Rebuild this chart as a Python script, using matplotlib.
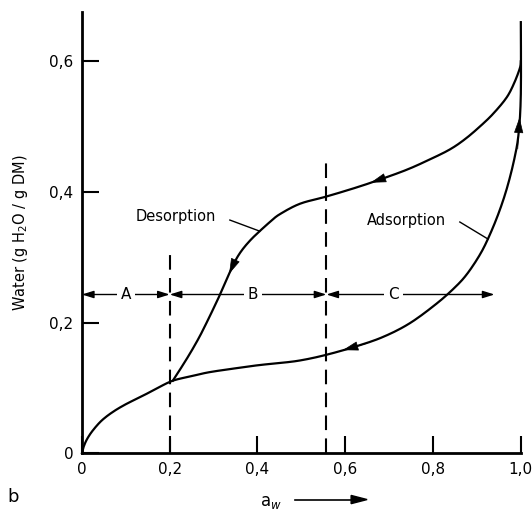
import numpy as np
import matplotlib.pyplot as plt

# isotherm readings (a_w, water content)
ads_x = [0, 0.004, 0.012, 0.025, 0.045, 0.07, 0.10, 0.139, 0.17, 0.207, 0.25, 0.29,
         0.35, 0.405, 0.45, 0.497, 0.553, 0.622, 0.686, 0.747, 0.808, 0.85,
         0.877, 0.905, 0.925, 0.948, 0.968, 0.985, 0.995, 1.0, 1.0]
ads_y = [0, 0.010, 0.022, 0.035, 0.050, 0.063, 0.075, 0.088, 0.099, 0.111, 0.118, 0.124,
         0.130, 0.135, 0.138, 0.142, 0.150, 0.163, 0.178, 0.199, 0.229, 0.254,
         0.274, 0.302, 0.328, 0.365, 0.405, 0.450, 0.490, 0.55, 0.66]

des_x = [1.0, 0.998, 0.985, 0.968, 0.94, 0.913, 0.875, 0.838, 0.79, 0.74, 0.679, 0.626,
         0.557, 0.497, 0.451, 0.43, 0.405, 0.385, 0.367, 0.353, 0.341, 0.327, 0.314,
         0.30, 0.29, 0.27, 0.25, 0.23, 0.207]
des_y = [0.60, 0.59, 0.567, 0.545, 0.522, 0.504, 0.482, 0.465, 0.449, 0.434, 0.419, 0.407,
         0.393, 0.382, 0.366, 0.355, 0.340, 0.327, 0.313, 0.299, 0.283, 0.262, 0.242,
         0.222, 0.208, 0.181, 0.157, 0.135, 0.111]

zone_bounds = [0, 0.2, 0.557, 0.94]
zone_names = ['A', 'B', 'C']
zone_level = 0.243
zone_label_x = [0.10, 0.39, 0.71]
split_tops = [0.305, 0.455]

xticks = [0, 0.2, 0.4, 0.6, 0.8, 1.0]
xticklabels = ['0', '0,2', '0,4', '0,6', '0,8', '1,0']
yticks = [0, 0.2, 0.4, 0.6]
yticklabels = ['0', '0,2', '0,4', '0,6']


def smooth(xs, ys, n=12):
    # catmull-rom through the read points, just so the pen line has no corners
    p = np.column_stack([xs, ys]).astype(float)
    p = np.vstack([p[0], p, p[-1]])
    t = np.linspace(0, 1, n, endpoint=False)[:, None]
    out = []
    for k in range(1, len(p) - 2):
        p0, p1, p2, p3 = p[k - 1], p[k], p[k + 1], p[k + 2]
        out.append(0.5 * (2 * p1 + (-p0 + p2) * t + (2 * p0 - 5 * p1 + 4 * p2 - p3) * t ** 2
                          + (-p0 + 3 * p1 - 3 * p2 + p3) * t ** 3))
    out.append(p[-2][None, :])
    out = np.vstack(out)
    return out[:, 0], out[:, 1]


def arrow_at(ax, xs, ys, i, back=False):
    # small filled arrow head sitting on the curve at point i
    j = i - 1 if back else i + 1
    x0, y0 = xs[i], ys[i]
    dx, dy = xs[j] - x0, ys[j] - y0
    ax.annotate('', xy=(x0 + 0.4 * dx, y0 + 0.4 * dy), xytext=(x0 - 0.4 * dx, y0 - 0.4 * dy),
                arrowprops=dict(arrowstyle='-|>,head_length=1.0,head_width=0.3',
                                color='black', lw=0.5, shrinkA=0, shrinkB=0))


fig = plt.figure(figsize=(5.32, 5.15), dpi=100)
ax = fig.add_axes([0.154, 0.120, 0.825, 0.856])

ax.plot(*smooth(ads_x, ads_y), color='black', lw=1.6, clip_on=False)
ax.plot(*smooth(des_x, des_y), color='black', lw=1.6, clip_on=False)

# arrows along the curves
arrow_at(ax, des_x, des_y, 10)
arrow_at(ax, des_x, des_y, 20)
arrow_at(ax, ads_x, ads_y, 17, back=True)
arrow_at(ax, ads_x, ads_y, 28)

# dashed zone limits
for xb, top in zip(zone_bounds[1:3], split_tops):
    ax.plot([xb, xb], [0, top], color='black', lw=1.5, ls=(0, (7, 4)))

# zone arrows A / B / C
for k, name in enumerate(zone_names):
    a, b = zone_bounds[k], zone_bounds[k + 1]
    ax.annotate('', xy=(a, zone_level), xytext=(b, zone_level),
                arrowprops=dict(arrowstyle='<|-|>,head_length=0.7,head_width=0.22',
                                color='black', lw=1.0, shrinkA=0, shrinkB=0))
    ax.text(zone_label_x[k], zone_level, name, ha='center', va='center', fontsize=11,
            bbox=dict(facecolor='white', edgecolor='none', pad=3))

ax.text(0.215, 0.363, 'Desorption', ha='center', va='center', fontsize=10.5)
ax.plot([0.337, 0.405], [0.357, 0.340], color='black', lw=1.0)
ax.text(0.74, 0.357, 'Adsorption', ha='center', va='center', fontsize=10.5)
ax.plot([0.861, 0.925], [0.354, 0.328], color='black', lw=1.0)

ax.set_xlim(0, 1.0)
ax.set_ylim(0, 0.675)
for s in ['top', 'right']:
    ax.spines[s].set_visible(False)
for s in ['left', 'bottom']:
    ax.spines[s].set_linewidth(2.0)

ax.set_xticks(xticks)
ax.set_xticklabels(xticklabels, fontsize=11)
ax.set_yticks(yticks)
ax.set_yticklabels(yticklabels, fontsize=11)
ax.tick_params(direction='in', length=12, width=1.5, pad=6)

ax.set_ylabel('Water (g H$_2$O / g DM)', fontsize=10.5, labelpad=14)

fig.text(0.013, 0.035, 'b', fontsize=13, ha='left', va='center')
fig.text(0.51, 0.025, 'a$_w$', fontsize=12, ha='center', va='center')
fig.add_artist(plt.Line2D([0.555, 0.66], [0.03, 0.03], color='black', lw=1.2))
fig.patches.append(plt.Polygon([[0.66, 0.038], [0.66, 0.022], [0.69, 0.03]],
                               closed=True, color='black', transform=fig.transFigure))

fig.savefig('out.png', dpi=100)
